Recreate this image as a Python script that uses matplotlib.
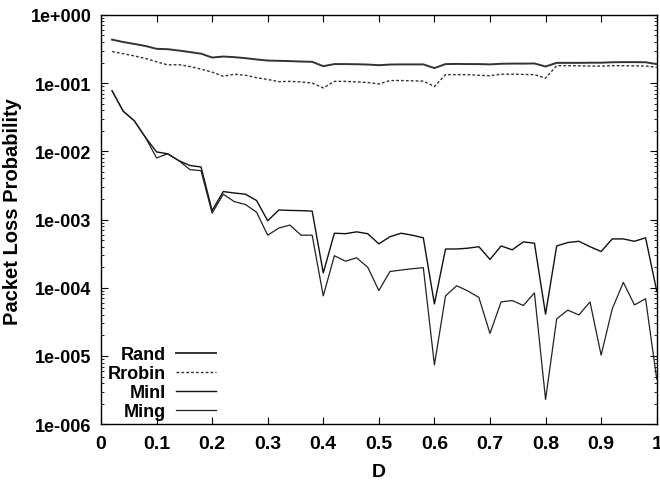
import numpy as np
import matplotlib
matplotlib.use("Agg")
import matplotlib.pyplot as plt

# D = 0.02 ... 1.00 (50 points)
d_values = np.round(np.arange(1, 51) * 0.02, 2)

rand_loss = [0.434, 0.40, 0.375, 0.35, 0.318, 0.314, 0.30, 0.285, 0.27, 0.237,
             0.245, 0.24, 0.232, 0.222, 0.214, 0.212, 0.21, 0.207, 0.205, 0.177,
             0.19, 0.19, 0.189, 0.187, 0.183, 0.187, 0.188, 0.188, 0.188, 0.166,
             0.19, 0.191, 0.19, 0.19, 0.188, 0.192, 0.193, 0.193, 0.194, 0.175,
             0.198, 0.198, 0.198, 0.199, 0.199, 0.202, 0.203, 0.203, 0.202, 0.19]
rrobin_loss = [0.29, 0.27, 0.25, 0.23, 0.205, 0.185, 0.186, 0.175, 0.16, 0.145,
               0.126, 0.135, 0.13, 0.12, 0.113, 0.105, 0.106, 0.104, 0.1, 0.085,
               0.106, 0.106, 0.104, 0.102, 0.097, 0.109, 0.109, 0.108, 0.107, 0.089,
               0.133, 0.133, 0.133, 0.13, 0.128, 0.135, 0.135, 0.134, 0.133, 0.118,
               0.18, 0.18, 0.179, 0.178, 0.177, 0.18, 0.18, 0.179, 0.178, 0.17]
minI_loss = [0.077, 0.0387, 0.028, 0.016, 0.0098, 0.0092, 0.0073, 0.0062, 0.0059, 0.00135,
             0.00257, 0.00245, 0.00235, 0.0019, 0.00096, 0.00138, 0.00136, 0.00135, 0.00133, 0.000165,
             0.00063, 0.00062, 0.00066, 0.00062, 0.00044, 0.00056, 0.00063, 0.00059, 0.00054, 0.000058,
             0.00037, 0.00037, 0.00038, 0.0004, 0.00026, 0.00041, 0.00036, 0.00047, 0.00045, 0.000041,
             0.00041, 0.00046, 0.00048, 0.0004, 0.00034, 0.00052, 0.00052, 0.00048, 0.00054, 0.00009]
ming_loss = [0.077, 0.0387, 0.028, 0.016, 0.0080, 0.0092, 0.0073, 0.0054, 0.0052, 0.00124,
             0.00235, 0.00183, 0.00166, 0.00128, 0.00059, 0.00075, 0.00083, 0.00059, 0.00059, 0.000076,
             0.000295, 0.000245, 0.000275, 0.0002, 0.000091, 0.000173, 0.000182, 0.00019, 0.000197, 0.0000074,
             0.000076, 0.000107, 0.00009, 0.000072, 0.0000214, 0.000062, 0.000065, 0.000055, 0.000084, 0.0000023,
             0.000035, 0.000047, 0.00004, 0.000062, 0.0000103, 0.000049, 0.00012, 0.000056, 0.000069, 0.0000046]

y_ticks = [1e0, 1e-1, 1e-2, 1e-3, 1e-4, 1e-5, 1e-6]
y_tick_labels = ["1e+000", "1e-001", "1e-002", "1e-003", "1e-004", "1e-005", "1e-006"]
x_ticks = [0, 0.1, 0.2, 0.3, 0.4, 0.5, 0.6, 0.7, 0.8, 0.9, 1]
x_tick_labels = ["0", "0.1", "0.2", "0.3", "0.4", "0.5", "0.6", "0.7", "0.8", "0.9", "1"]

plt.rcParams["font.family"] = ["Liberation Sans", "DejaVu Sans"]
plt.rcParams["font.weight"] = "bold"

fig = plt.figure(figsize=(6.6, 4.81), dpi=100)
ax = fig.add_axes([0.153, 0.116, 0.842, 0.851])

ax.plot(d_values, rand_loss, color="#333333", lw=1.4, label="Rand")
ax.plot(d_values, rrobin_loss, color="#333333", lw=1.0, ls=(0, (2, 1.5)), label="Rrobin")
ax.plot(d_values, minI_loss, color="#111111", lw=1.0, label="MinI")
ax.plot(d_values, ming_loss, color="#222222", lw=0.9, label="Ming")

ax.set_yscale("log")
ax.set_xlim(0, 1)
ax.set_ylim(1e-6, 1)
ax.set_yticks(y_ticks)
ax.set_yticklabels(y_tick_labels, fontsize=13, fontweight="bold")
ax.set_xticks(x_ticks)
ax.set_xticklabels(x_tick_labels, fontsize=14, fontweight="bold")
ax.tick_params(axis="both", which="both", direction="in", top=True, right=True)
ax.tick_params(axis="x", pad=8)
ax.tick_params(axis="y", pad=7)
ax.tick_params(which="major", length=5)
ax.tick_params(which="minor", length=2.5)
for s in ax.spines.values():
    s.set_linewidth(1.0)

ax.set_xlabel("D", fontsize=14, fontweight="bold", labelpad=8)
ax.set_ylabel("Packet Loss Probability", fontsize=14.5, fontweight="bold")
ax.yaxis.set_label_coords(-0.142, 0.523)

leg = ax.legend(loc="lower left", frameon=False, fontsize=13, markerfirst=False,
                handlelength=2.2, handletextpad=0.55, labelspacing=0.1,
                borderaxespad=0.0, bbox_to_anchor=(0.0, -0.007))
for t in leg.get_texts():
    t.set_ha("right")
leg._legend_box.align = "right"

fig.savefig("out.png", dpi=100)
